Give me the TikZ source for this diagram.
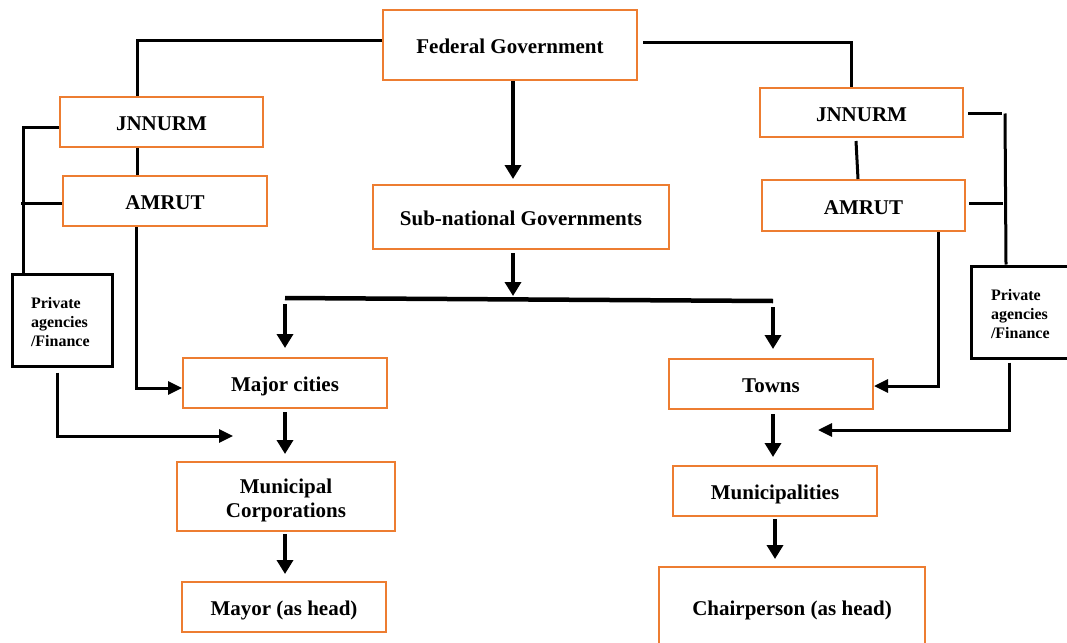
\documentclass[tikz,border=0pt]{standalone}
\usepackage{fontspec}
\setmainfont{Liberation Serif}
\usetikzlibrary{arrows.meta,calc}
\definecolor{orangec}{RGB}{237,125,49}
\begin{document}
\begin{tikzpicture}[x=1pt,y=1pt,
  box/.style={draw=orangec, line width=2pt, fill=white, align=center, inner sep=0pt,
    text height=21pt, text depth=4pt,
    font=\bfseries\fontsize{21}{24}\selectfont},
  mbox/.style={draw=orangec, line width=2pt, fill=white, align=center, inner sep=0pt,
    font=\bfseries\fontsize{21}{24}\selectfont},
  pbox/.style={draw=black, line width=3pt, fill=white, align=left, inner ysep=0pt,
    font=\bfseries\fontsize{16}{19}\selectfont},
  conn/.style={line width=3pt},
  arr/.style={line width=4.5pt, -{Triangle[width=16pt,length=14pt]}},
  sarr/.style={line width=3pt, -{Triangle[width=13pt,length=14pt]}},
  ]
\useasboundingbox (0,0) rectangle (1067,-642);

% nodes
\node[box, minimum width=254pt, minimum height=70pt] (fed) at (510,-45) {Federal Government};
\node[box, minimum width=296pt, minimum height=64pt] (sub) at (521,-217) {Sub-national Governments};
\node[box, minimum width=203pt, minimum height=50pt] (jl) at (161.5,-122) {JNNURM};
\node[box, minimum width=204pt, minimum height=50pt] (al) at (165,-201) {AMRUT};
\node[pbox, minimum width=100pt, minimum height=92pt, text width=62pt, inner xsep=19pt] (pl) at (62,-320) {\rule{0pt}{16pt}Private\\agencies\\/Finance};
\node[box, minimum width=204pt, minimum height=50pt] (mc) at (285,-383) {Major cities};
\node[mbox, minimum width=218pt, minimum height=69pt] (mun) at (286,-496.5) {\rule{0pt}{23pt}Municipal\\Corporations};
\node[box, minimum width=204pt, minimum height=50pt] (may) at (284,-607) {Mayor (as head)};
\node[box, minimum width=203pt, minimum height=49pt] (jr) at (861.5,-112.5) {JNNURM};
\node[box, minimum width=203pt, minimum height=51pt] (ar) at (863.5,-205.5) {AMRUT};
\node[pbox, minimum width=104pt, minimum height=92pt, text width=64pt, inner xsep=20pt] (pr) at (1023,-312) {\rule{0pt}{16pt}Private\\agencies\\/Finance};
\node[box, minimum width=204pt, minimum height=50pt] (towns) at (771,-384) {Towns};
\node[box, minimum width=204pt, minimum height=50pt] (munic) at (775,-491) {Municipalities};
\node[box, minimum width=266pt, minimum height=80pt] (chair) at (792,-607) {Chairperson (as head)};

\coordinate (bl) at (285,-298);
\coordinate (br) at (773,-301);
\coordinate (pla) at (233,-436);
\coordinate (pra) at (818,-430);

% left side connectors
\draw[conn] ([yshift=4]fed.west) -| ([xshift=-24.5]jl.north);
\draw[conn] ([xshift=-24.5]jl.south) -- ([xshift=-28]al.north);
\draw[conn] ([xshift=-39]pl.north) |- ([yshift=-5]jl.west);
\draw[conn] ([yshift=-2]al.west) -- ++(-41.5,0);
\draw[sarr] ([xshift=-29]al.south) |- ([yshift=-5]mc.west);
\draw[sarr] ([xshift=-5,yshift=-5]pl.south) |- (pla);

% right side connectors
\draw[conn] ([xshift=5,yshift=2]fed.east) -| ([xshift=-10]jr.north);
\draw[conn] ([xshift=-5.5,yshift=-3]jr.south) -- ([xshift=-5.5]ar.north);
\draw[conn] ([xshift=4,yshift=-0.5]jr.east) -- ++(34,0);
\draw[conn] ([xshift=-17]pr.north) -- ++(-1,151);
\draw[conn] ([xshift=3,yshift=2.5]ar.east) -- ++(34,0);
\draw[sarr] ([xshift=74.5]ar.south) |- ([yshift=-2]towns.east);
\draw[sarr] ([xshift=-14,yshift=-3]pr.south) |- (pra);

% central arrows
\draw[arr] ([xshift=3]fed.south) -- ([xshift=-8,yshift=5]sub.north);
\draw[arr] ([xshift=-8,yshift=-3]sub.south) -- ([xshift=-8,yshift=-46]sub.south);
\draw[line width=4.5pt] (bl) -- (br);
\draw[arr] ([yshift=-6]bl) -- ([yshift=9]mc.north);
\draw[arr] ([yshift=-6]br) -- ([xshift=2,yshift=9]towns.north);
\draw[arr] ([yshift=-3]mc.south) -- ([xshift=-1,yshift=7]mun.north);
\draw[arr] ([xshift=-1,yshift=-2]mun.south) -- ([xshift=1,yshift=7]may.north);
\draw[arr] ([xshift=2,yshift=-4]towns.south) -- ([xshift=-2,yshift=8]munic.north);
\draw[arr] ([yshift=-2]munic.south) -- ([xshift=-17,yshift=7]chair.north);
\end{tikzpicture}
\end{document}
